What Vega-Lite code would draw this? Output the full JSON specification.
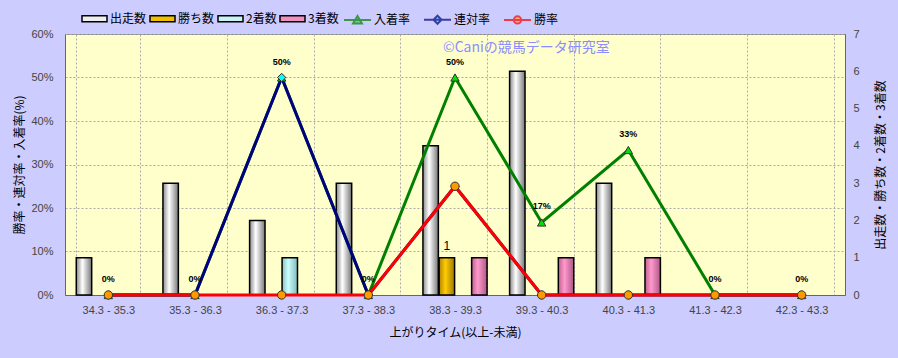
{
  "$schema": "https://vega.github.io/schema/vega-lite/v6.json",
  "width": 780,
  "height": 261,
  "autosize": "none",
  "padding": {"left": 65, "top": 34, "right": 53, "bottom": 63},
  "background": "#CCCCFF",
  "title": {
    "text": "©Caniの競馬データ研究室",
    "anchor": "start",
    "frame": "group",
    "orient": "top",
    "dx": 378,
    "dy": 50,
    "offset": 0,
    "color": "#8C8CFF",
    "fontSize": 14,
    "fontWeight": "normal",
    "font": "Noto Sans CJK JP"
  },
  "config": {
    "view": {"fill": "#FFFFCC", "stroke": "#888888", "strokeWidth": 1},
    "axis": {
      "labelFont": "Liberation Sans",
      "labelFontSize": 11,
      "labelColor": "#444444",
      "titleFont": "Noto Sans CJK JP",
      "titleFontSize": 12,
      "titleFontWeight": "normal",
      "titleColor": "#000000",
      "domainColor": "#666666",
      "gridColor": "#AAAAAA",
      "gridDash": [2, 2],
      "gridWidth": 1,
      "ticks": false
    },
    "legend": {
      "labelFont": "Noto Sans CJK JP",
      "labelFontSize": 12,
      "labelColor": "#000000"
    }
  },
  "data": {
    "values": [
      {"range": "34.3 - 35.3", "出走数": 1, "勝ち数": 0, "2着数": 0, "3着数": 0, "入着率": 0, "連対率": 0, "勝率": 0},
      {"range": "35.3 - 36.3", "出走数": 3, "勝ち数": 0, "2着数": 0, "3着数": 0, "入着率": 0, "連対率": 0, "勝率": 0},
      {"range": "36.3 - 37.3", "出走数": 2, "勝ち数": 0, "2着数": 1, "3着数": 0, "入着率": 0.5, "連対率": 0.5, "勝率": 0},
      {"range": "37.3 - 38.3", "出走数": 3, "勝ち数": 0, "2着数": 0, "3着数": 0, "入着率": 0, "連対率": 0, "勝率": 0},
      {"range": "38.3 - 39.3", "出走数": 4, "勝ち数": 1, "2着数": 0, "3着数": 1, "入着率": 0.5, "連対率": 0.25, "勝率": 0.25},
      {"range": "39.3 - 40.3", "出走数": 6, "勝ち数": 0, "2着数": 0, "3着数": 1, "入着率": 0.1667, "連対率": 0, "勝率": 0},
      {"range": "40.3 - 41.3", "出走数": 3, "勝ち数": 0, "2着数": 0, "3着数": 1, "入着率": 0.3333, "連対率": 0, "勝率": 0},
      {"range": "41.3 - 42.3", "出走数": 0, "勝ち数": 0, "2着数": 0, "3着数": 0, "入着率": 0, "連対率": 0, "勝率": 0},
      {"range": "42.3 - 43.3", "出走数": 0, "勝ち数": 0, "2着数": 0, "3着数": 0, "入着率": 0, "連対率": 0, "勝率": 0}
    ]
  },
  "encoding": {
    "x": {
      "field": "range",
      "type": "nominal",
      "sort": null,
      "title": "上がりタイム(以上-未満)",
      "scale": {"paddingInner": 0.26, "paddingOuter": 0.13},
      "axis": {"labelAngle": 0, "tickBand": "extent", "grid": true, "labelPadding": 9, "titlePadding": 12}
    }
  },
  "layer": [
    {
      "transform": [{"fold": ["出走数", "勝ち数", "2着数", "3着数"], "as": ["series", "count"]}],
      "encoding": {
        "y": {
          "field": "count",
          "type": "quantitative",
          "scale": {"domain": [0, 7]},
          "axis": {"orient": "right", "title": "出走数・勝ち数・2着数・3着数", "titleAngle": 270, "values": [0, 1, 2, 3, 4, 5, 6, 7], "grid": false, "labelPadding": 8, "titlePadding": 28}
        },
        "xOffset": {
          "field": "series",
          "type": "nominal",
          "sort": ["出走数", "勝ち数", "2着数", "3着数"],
          "scale": {"domain": ["出走数", "勝ち数", "2着数", "3着数"], "paddingInner": 0.05}
        },
        "color": {
          "field": "series",
          "type": "nominal",
          "scale": {"domain": ["出走数", "勝ち数", "2着数", "3着数"], "range": ["#EEEEEE", "#F0C000", "#C8F4F4", "#F090C0"]},
          "legend": {
            "orient": "none",
            "direction": "horizontal",
            "legendX": 16,
            "legendY": -29,
            "title": null,
            "padding": 0,
            "symbolType": "M-1,-0.24H1V0.24H-1Z",
            "symbolSize": 625,
            "symbolStrokeColor": "#000000",
            "symbolStrokeWidth": 1.5,
            "columnPadding": 0,
            "labelOffset": 2
          }
        }
      },
      "layer": [
        {
          "transform": [{"filter": "datum.series === '出走数' && datum.count > 0"}],
          "mark": {"type": "bar", "stroke": "#000000", "strokeWidth": 1.5, "fill": {"gradient": "linear", "x1": 0, "y1": 0, "x2": 1, "y2": 0, "stops": [{"offset": 0, "color": "#8A8A8A"}, {"offset": 0.4, "color": "#FFFFFF"}, {"offset": 1, "color": "#777777"}]}}
        },
        {
          "transform": [{"filter": "datum.series === '勝ち数' && datum.count > 0"}],
          "mark": {"type": "bar", "stroke": "#000000", "strokeWidth": 1.5, "fill": {"gradient": "linear", "x1": 0, "y1": 0, "x2": 1, "y2": 0, "stops": [{"offset": 0, "color": "#B08600"}, {"offset": 0.4, "color": "#FFCC00"}, {"offset": 1, "color": "#A07800"}]}}
        },
        {
          "transform": [{"filter": "datum.series === '2着数' && datum.count > 0"}],
          "mark": {"type": "bar", "stroke": "#000000", "strokeWidth": 1.5, "fill": {"gradient": "linear", "x1": 0, "y1": 0, "x2": 1, "y2": 0, "stops": [{"offset": 0, "color": "#88C0C0"}, {"offset": 0.4, "color": "#CCFFFF"}, {"offset": 1, "color": "#80B8B8"}]}}
        },
        {
          "transform": [{"filter": "datum.series === '3着数' && datum.count > 0"}],
          "mark": {"type": "bar", "stroke": "#000000", "strokeWidth": 1.5, "fill": {"gradient": "linear", "x1": 0, "y1": 0, "x2": 1, "y2": 0, "stops": [{"offset": 0, "color": "#C06090"}, {"offset": 0.4, "color": "#FF99CC"}, {"offset": 1, "color": "#B05888"}]}}
        },
        {
          "transform": [{"filter": "datum.series === '勝ち数' && datum.count > 0"}],
          "mark": {"type": "text", "dy": -12, "fontSize": 12, "font": "Liberation Sans"},
          "encoding": {"text": {"field": "count", "type": "quantitative"}, "color": {"value": "#000000"}}
        }
      ]
    },
    {
      "transform": [{"fold": ["入着率", "連対率", "勝率"], "as": ["rate", "value"]}],
      "encoding": {
        "y": {
          "field": "value",
          "type": "quantitative",
          "scale": {"domain": [0, 0.6]},
          "axis": {"orient": "left", "format": ".0%", "title": "勝率・連対率・入着率(%)", "values": [0, 0.1, 0.2, 0.3, 0.4, 0.5, 0.6], "grid": true, "labelPadding": 12, "titlePadding": 4}
        }
      },
      "layer": [
        {
          "mark": {"type": "line", "strokeWidth": 3},
          "encoding": {
            "stroke": {
              "field": "rate",
              "type": "nominal",
              "scale": {"domain": ["入着率", "連対率", "勝率"], "range": ["#008000", "#000080", "#FF0000"]},
              "legend": {"orient": "none", "direction": "horizontal", "legendX": 278, "legendY": -29, "title": null, "padding": 0, "symbolSize": 729, "symbolStrokeWidth": 2, "columnPadding": 9, "labelOffset": 2}
            }
          }
        },
        {
          "transform": [{"filter": "datum.value < 0"}],
          "mark": {"type": "point", "filled": true},
          "encoding": {
            "fill": {
              "field": "rate",
              "type": "nominal",
              "scale": {"domain": ["入着率", "連対率", "勝率"], "range": ["#00E000", "#00FFFF", "#FF9900"]},
              "legend": {"orient": "none", "direction": "horizontal", "legendX": 278, "legendY": -29, "title": null, "padding": 0, "symbolSize": 729, "symbolStrokeWidth": 2, "columnPadding": 9, "labelOffset": 2}
            },
            "shape": {
              "field": "rate",
              "type": "nominal",
              "scale": {"domain": ["入着率", "連対率", "勝率"], "range": ["M-1,0H1M0,-0.3L0.33,0.26H-0.33Z", "M-1,0H1M0,-0.3L0.3,0L0,0.3L-0.3,0Z", "M-1,0H1M-0.27,0A0.27,0.27,0,1,1,0.27,0A0.27,0.27,0,1,1,-0.27,0Z"]},
              "legend": {"orient": "none", "direction": "horizontal", "legendX": 278, "legendY": -29, "title": null, "padding": 0, "symbolSize": 729, "symbolStrokeWidth": 2, "columnPadding": 9, "labelOffset": 2}
            }
          }
        },
        {
          "transform": [{"filter": "datum.rate === '入着率'"}],
          "mark": {"type": "point", "filled": true, "shape": "triangle-up", "fill": "#00E000", "size": 70, "stroke": "#333333", "strokeWidth": 1, "opacity": 1}
        },
        {
          "transform": [{"filter": "datum.rate === '連対率'"}],
          "mark": {"type": "point", "filled": true, "shape": "diamond", "fill": "#00FFFF", "size": 70, "stroke": "#333333", "strokeWidth": 1, "opacity": 1}
        },
        {
          "transform": [{"filter": "datum.rate === '勝率'"}],
          "mark": {"type": "point", "filled": true, "shape": "circle", "fill": "#FF9900", "size": 70, "stroke": "#333333", "strokeWidth": 1, "opacity": 1}
        },
        {
          "transform": [{"filter": "datum.rate === '入着率'"}],
          "mark": {"type": "text", "dy": -16, "fontSize": 9, "fontWeight": "bold", "font": "Liberation Sans", "color": "#000000"},
          "encoding": {"text": {"field": "value", "type": "quantitative", "format": ".0%"}}
        }
      ]
    }
  ],
  "resolve": {"scale": {"y": "independent"}}
}
